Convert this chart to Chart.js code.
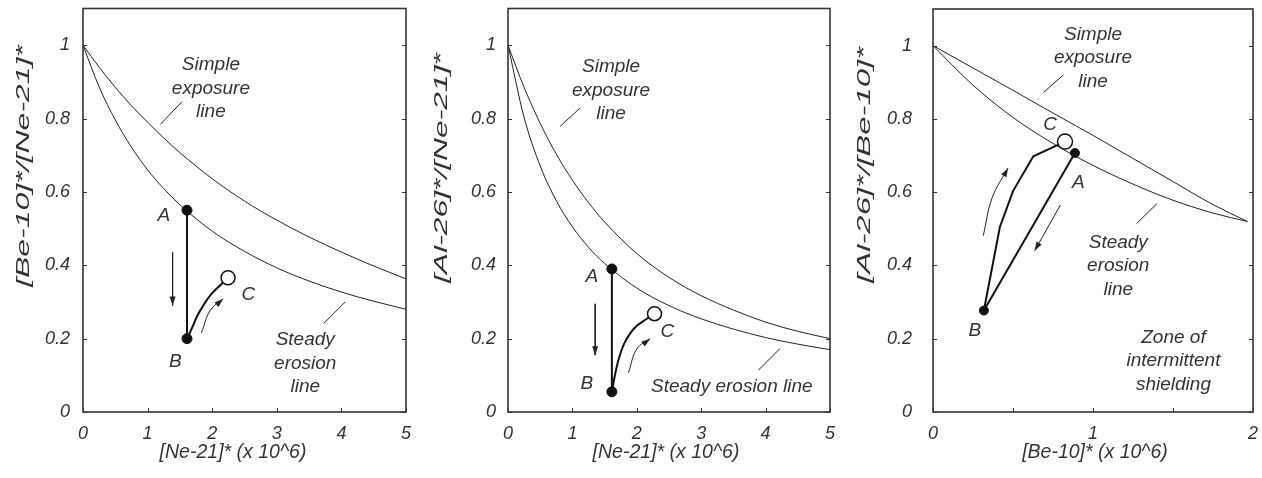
<!DOCTYPE html>
<html>
<head>
<meta charset="utf-8">
<script src="https://cdn.jsdelivr.net/npm/chart.js@4.4.1/dist/chart.umd.min.js"></script>
<style>
  body { margin: 0; background: #fff; width: 1262px; height: 478px; overflow: hidden; position: relative; }
  .panel { position: absolute; top: 0; height: 478px; }
</style>
</head>
<body>
<div class="panel" style="left:0;width:420px"><canvas id="c1" width="420" height="478"></canvas></div>
<div class="panel" style="left:420px;width:420px"><canvas id="c2" width="420" height="478"></canvas></div>
<div class="panel" style="left:840px;width:422px"><canvas id="c3" width="422" height="478"></canvas></div>
<script>
// ---- data ----
const neX = [0, 0.25, 0.5, 0.75, 1, 1.25, 1.5, 2, 2.5, 3, 3.5, 4, 4.5, 5]
const beNeSimple = [1, 0.94, 0.885, 0.835, 0.79, 0.747, 0.707, 0.636, 0.575, 0.523, 0.477, 0.436, 0.398, 0.363]
const beNeSteady = [1, 0.886, 0.796, 0.722, 0.66, 0.609, 0.565, 0.493, 0.438, 0.393, 0.357, 0.327, 0.302, 0.28]
const alNeSimple = [1, 0.885, 0.787, 0.703, 0.632, 0.571, 0.518, 0.432, 0.367, 0.317, 0.278, 0.245, 0.22, 0.2]
const alNeSteady = [1, 0.803, 0.671, 0.576, 0.505, 0.449, 0.405, 0.338, 0.29, 0.254, 0.226, 0.203, 0.185, 0.17]

const beX = [0, 0.25, 0.5, 0.75, 1, 1.25, 1.5, 1.75, 1.965]
const alBeSimple = [1, 0.939, 0.878, 0.816, 0.755, 0.692, 0.629, 0.566, 0.52]
const alBeSteady = [1, 0.892, 0.804, 0.733, 0.673, 0.622, 0.578, 0.543, 0.52]

// burial / re-exposure paths: A -> B, then B -> C
const path1AB = [[1.61, 0.55], [1.61, 0.2]]
const path1BC = [[1.61, 0.2], [1.69, 0.23], [1.76, 0.259], [1.86, 0.29], [1.97, 0.318], [2.12, 0.345], [2.245, 0.366]]
const path2AB = [[1.613, 0.39], [1.613, 0.055]]
const path2BC = [[1.613, 0.055], [1.66, 0.1], [1.72, 0.145], [1.8, 0.185], [1.9, 0.215], [2.0, 0.235], [2.12, 0.25], [2.275, 0.268]]
const path3AB = [[0.887, 0.707], [0.318, 0.277]]
const path3BC = [[0.318, 0.277], [0.418, 0.505], [0.5, 0.603], [0.627, 0.698], [0.775, 0.728], [0.825, 0.738]]

const neTicks = [0, 1, 2, 3, 4, 5]
const neTickLabels = ['0', '1', '2', '3', '4', '5']
const beTicks = [0, 0.5, 1, 1.5, 2]
const beTickLabels = ['0', '', '1', '', '2']
const ratioTicks = [0, 0.2, 0.4, 0.6, 0.8, 1]
const ratioTickLabels = ['0', '0.2', '0.4', '0.6', '0.8', '1']

const FONT = "'Liberation Sans', Arial, sans-serif"
const TXT = '#333'

function pts(xs, ys) {
    return xs.map((x, i) => ({ x: x, y: ys[i] }))
}
function xy(arr) {
    return arr.map(p => ({ x: p[0], y: p[1] }))
}

// draws box, inward ticks, arrow heads, notes and axis titles
const decor = {
    id: 'decor',
    afterDraw(chart) {
        const ctx = chart.ctx
        const a = chart.chartArea
        const sx = chart.scales.x, sy = chart.scales.y
        const o = chart.options.plugins.decor
        ctx.save()
        ctx.strokeStyle = '#333'
        ctx.lineWidth = 1
        sy.ticks.forEach(t => {
            const y = Math.round(sy.getPixelForValue(t.value)) + 0.5
            ctx.beginPath()
            ctx.moveTo(a.left, y); ctx.lineTo(a.left + 4, y)
            ctx.moveTo(a.right, y); ctx.lineTo(a.right - 4, y)
            ctx.stroke()
        })
        sx.ticks.forEach(t => {
            const x = Math.round(sx.getPixelForValue(t.value)) + 0.5
            ctx.beginPath()
            ctx.moveTo(x, a.bottom); ctx.lineTo(x, a.bottom - 4)
            ctx.stroke()
        })
        ctx.lineWidth = 1.6
        ctx.strokeRect(a.left, a.top, a.right - a.left, a.bottom - a.top)

        // arrow heads
        chart.data.datasets.forEach((ds, i) => {
            if (!ds.arrow) return
            const els = chart.getDatasetMeta(i).data
            const p = els[els.length - 1]
            let fx = els[els.length - 2].x, fy = els[els.length - 2].y
            if (p.cp1x !== undefined && ds.tension) { fx = p.cp1x; fy = p.cp1y }
            const ang = Math.atan2(p.y - fy, p.x - fx)
            ctx.fillStyle = '#222'
            ctx.beginPath()
            ctx.moveTo(p.x, p.y)
            ctx.lineTo(p.x - 9 * Math.cos(ang) + 3 * Math.sin(ang), p.y - 9 * Math.sin(ang) - 3 * Math.cos(ang))
            ctx.lineTo(p.x - 9 * Math.cos(ang) - 3 * Math.sin(ang), p.y - 9 * Math.sin(ang) + 3 * Math.cos(ang))
            ctx.closePath()
            ctx.fill()
        })

        // notes
        ctx.fillStyle = TXT
        ctx.textAlign = 'center'
        ctx.textBaseline = 'middle'
        o.notes.forEach(n => {
            ctx.font = 'italic ' + (n.size || 19) + 'px ' + FONT
            const cx = sx.getPixelForValue(n.x)
            const cy = sy.getPixelForValue(n.y)
            const h = 23.5
            n.text.forEach((line, k) => {
                ctx.fillText(line, cx, cy + (k - (n.text.length - 1) / 2) * h)
            })
        })

        // axis titles (the y title is stretched along its length in the original)
        ctx.font = 'italic 19.5px ' + FONT
        ctx.fillText(o.xTitle, o.xTitleX, 453)
        ctx.font = 'italic 19px ' + FONT
        const w = ctx.measureText(o.yTitle).width
        ctx.save()
        ctx.translate(o.yTitleX, o.yTitleY)
        ctx.rotate(-Math.PI / 2)
        ctx.scale(o.yTitleLen / w, 1)
        ctx.fillText(o.yTitle, 0, 0)
        ctx.restore()
        ctx.restore()
    }
}

function noPad(s) {
    s.paddingTop = 0; s.paddingBottom = 0; s.paddingLeft = 0; s.paddingRight = 0
}

function makeChart(id, p) {
    const curve = (data) => ({
        data: data, showLine: true, borderColor: '#222', borderWidth: 1,
        pointRadius: 0, cubicInterpolationMode: 'monotone', order: 5
    })
    const thin = (data, arrow, tension) => ({
        data: xy(data), showLine: true, borderColor: '#222', borderWidth: 1,
        pointRadius: 0, tension: tension || 0, arrow: arrow, order: 4
    })
    const datasets = [
        { data: [xy(p.ab)[0], xy(p.ab)[1]], showLine: false, pointRadius: p.dot, pointBackgroundColor: '#111', pointBorderColor: '#111', order: 0 },
        { data: [xy(p.bc)[p.bc.length - 1]], showLine: false, pointRadius: p.ring, pointBackgroundColor: '#fff', pointBorderColor: '#111', pointBorderWidth: 1.5, order: 0 },
        { data: xy(p.ab), showLine: true, borderColor: '#111', borderWidth: 2, pointRadius: 0, order: 2 },
        { data: xy(p.bc), showLine: true, borderColor: '#111', borderWidth: 2, pointRadius: 0, tension: p.bcTension, order: 2 },
        curve(p.simple),
        curve(p.steady)
    ]
    p.leaders.forEach(l => datasets.push(thin(l, false)))
    p.arrows.forEach(l => datasets.push(thin(l.pts, true, l.tension)))

    new Chart(document.getElementById(id), {
        type: 'scatter',
        data: { datasets: datasets },
        options: {
            responsive: false,
            animation: false,
            events: [],
            layout: { padding: { top: 6, right: p.padRight, bottom: 0, left: 0 } },
            plugins: {
                legend: { display: false },
                tooltip: { enabled: false },
                decor: { notes: p.notes, xTitle: p.xTitle, yTitle: p.yTitle, xTitleX: p.xTitleX,
                         yTitleX: p.yTitleX, yTitleY: p.yTitleY, yTitleLen: p.yTitleLen }
            },
            scales: {
                x: {
                    type: 'linear', min: 0, max: p.xMax,
                    grid: { display: false, drawTicks: false }, border: { display: false },
                    afterBuildTicks: s => { s.ticks = p.xTicks.map(v => ({ value: v })) },
                    afterFit: s => { s.height = 66; noPad(s) },
                    ticks: { padding: 11, color: TXT, font: { family: FONT, size: 18, style: 'italic' }, maxRotation: 0,
                             callback: (v, i) => p.xTickLabels[i] }
                },
                y: {
                    type: 'linear', min: 0, max: 1.1,
                    grid: { display: false, drawTicks: false }, border: { display: false },
                    afterBuildTicks: s => { s.ticks = ratioTicks.map(v => ({ value: v })) },
                    afterFit: s => { s.width = p.yWidth; noPad(s) },
                    ticks: { padding: p.yPad, color: TXT, font: { family: FONT, size: 18, style: 'italic' },
                             callback: (v, i) => ratioTickLabels[i] }
                }
            }
        },
        plugins: [decor]
    })
}

makeChart('c1', {
    simple: pts(neX, beNeSimple), steady: pts(neX, beNeSteady),
    ab: path1AB, bc: path1BC, bcTension: 0.3, dot: 5, ring: 7,
    xMax: 5, xTicks: neTicks, xTickLabels: neTickLabels,
    yWidth: 83, yPad: 13, padRight: 14,
    xTitle: '[Ne-21]* (x 10^6)', yTitle: '[Be-10]*/[Ne-21]*', xTitleX: 233,
    yTitleX: 24, yTitleY: 166, yTitleLen: 242,
    leaders: [[[1.197, 0.784], [1.532, 0.846]], [[3.725, 0.241], [4.06, 0.3]]],
    arrows: [
        { pts: [[1.387, 0.435], [1.387, 0.29]] },
        { pts: [[1.833, 0.216], [1.97, 0.277], [2.17, 0.309]], tension: 0.4 }
    ],
    notes: [
        { x: 1.98, y: 0.882, text: ['Simple', 'exposure', 'line'] },
        { x: 3.44, y: 0.132, text: ['Steady', 'erosion', 'line'] },
        { x: 1.25, y: 0.535, text: ['A'] },
        { x: 1.43, y: 0.137, text: ['B'] },
        { x: 2.56, y: 0.32, text: ['C'] }
    ]
})

makeChart('c2', {
    simple: pts(neX, alNeSimple), steady: pts(neX, alNeSteady),
    ab: path2AB, bc: path2BC, bcTension: 0.3, dot: 5, ring: 7,
    xMax: 5, xTicks: neTicks, xTickLabels: neTickLabels,
    yWidth: 88, yPad: 12, padRight: 10,
    xTitle: '[Ne-21]* (x 10^6)', yTitle: '[Al-26]*/[Ne-21]*', xTitleX: 246,
    yTitleX: 22, yTitleY: 168, yTitleLen: 230,
    leaders: [[[0.811, 0.779], [1.121, 0.829]], [[3.888, 0.114], [4.224, 0.173]]],
    arrows: [
        { pts: [[1.354, 0.295], [1.354, 0.155]] },
        { pts: [[1.871, 0.107], [2.0, 0.172], [2.208, 0.2]], tension: 0.4 }
    ],
    notes: [
        { x: 1.6, y: 0.876, text: ['Simple', 'exposure', 'line'] },
        { x: 3.475, y: 0.069, text: ['Steady erosion line'] },
        { x: 1.30, y: 0.369, text: ['A'] },
        { x: 1.225, y: 0.078, text: ['B'] },
        { x: 2.476, y: 0.218, text: ['C'] }
    ]
})

makeChart('c3', {
    simple: pts(beX, alBeSimple), steady: pts(beX, alBeSteady),
    ab: path3AB, bc: path3BC, bcTension: 0, dot: 4.5, ring: 7.5,
    xMax: 2, xTicks: beTicks, xTickLabels: beTickLabels,
    yWidth: 93, yPad: 21, padRight: 5,
    xTitle: '[Be-10]* (x 10^6)', yTitle: '[Al-26]*/[Be-10]*', xTitleX: 255,
    yTitleX: 25, yTitleY: 165, yTitleLen: 236,
    leaders: [[[0.69, 0.872], [0.815, 0.92]], [[1.272, 0.514], [1.4, 0.569]]],
    arrows: [
        { pts: [[0.314, 0.481], [0.37, 0.585], [0.469, 0.666]], tension: 0.4 },
        { pts: [[0.796, 0.565], [0.635, 0.44]] }
    ],
    notes: [
        { x: 1.0, y: 0.967, text: ['Simple', 'exposure', 'line'] },
        { x: 1.158, y: 0.399, text: ['Steady', 'erosion', 'line'] },
        { x: 1.503, y: 0.139, text: ['Zone of', 'intermittent', 'shielding'] },
        { x: 0.732, y: 0.784, text: ['C'] },
        { x: 0.909, y: 0.625, text: ['A'] },
        { x: 0.262, y: 0.223, text: ['B'] }
    ]
})
</script>
</body>
</html>
